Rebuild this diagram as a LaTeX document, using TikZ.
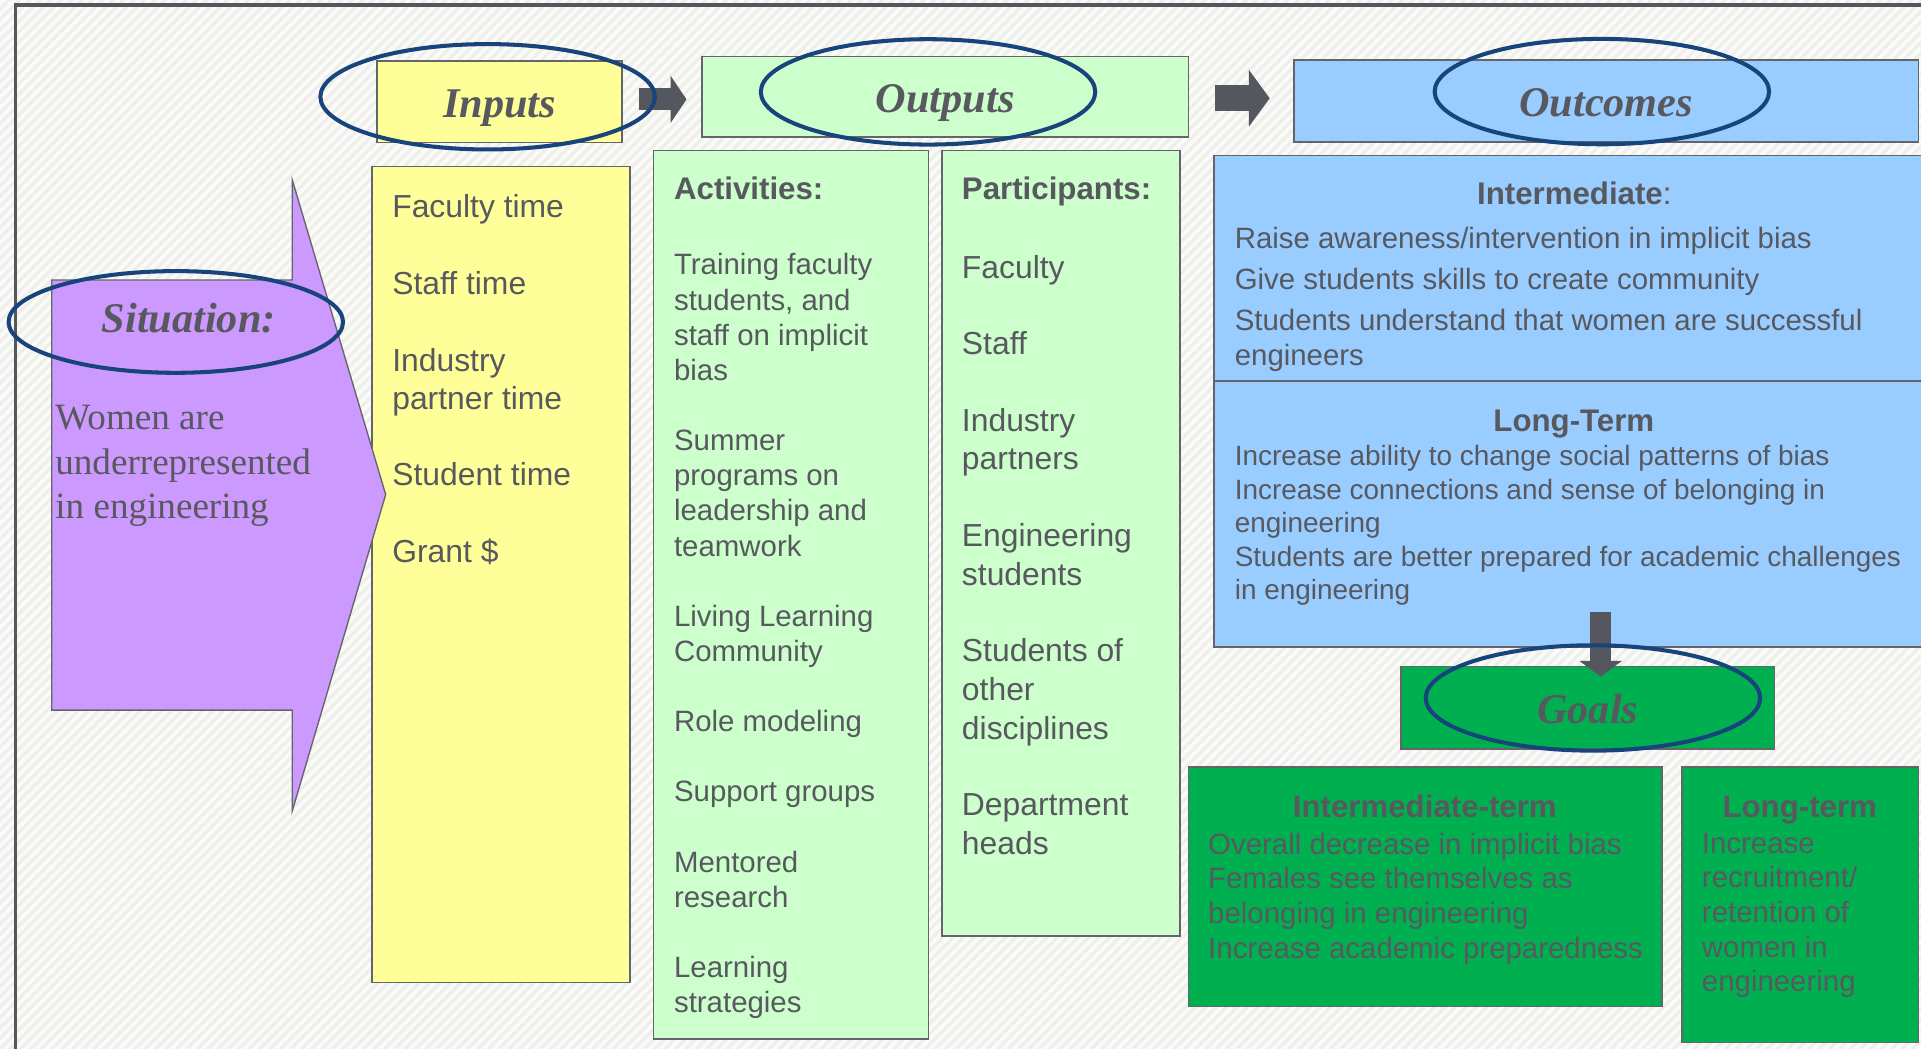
\documentclass[tikz,border=0pt]{standalone}
\usepackage{fontspec}
\setmainfont{Liberation Serif}
\setsansfont{Liberation Sans}
\usepackage{tikz}
\usetikzlibrary{shapes.geometric, arrows.meta, patterns.meta}
\definecolor{txtgray}{RGB}{88,89,95}
\definecolor{boxline}{RGB}{100,101,107}
\definecolor{arrowgray}{RGB}{85,87,95}
\definecolor{ovalblue}{RGB}{23,68,122}
\definecolor{inyellow}{RGB}{255,255,153}
\definecolor{outgreen}{RGB}{204,255,204}
\definecolor{outcblue}{RGB}{153,204,255}
\definecolor{sitpurple}{RGB}{204,153,255}
\definecolor{goalgreen}{RGB}{0,176,80}
\definecolor{bgpaper}{RGB}{250,250,248}
\definecolor{bgstripe}{RGB}{238,238,235}
\newcommand{\hdfont}{\rmfamily\bfseries\itshape\fontsize{34.5}{40}\selectfont}
\newcommand{\sitfont}{\rmfamily\fontsize{30.3}{36.3}\selectfont}
\newcommand{\inputfont}{\sffamily\fontsize{26}{31}\selectfont}
\newcommand{\actfont}{\sffamily\fontsize{24}{28.7}\selectfont}
\newcommand{\partfont}{\sffamily\fontsize{26}{31.7}\selectfont}
\newcommand{\outcfont}{\sffamily\fontsize{24}{28}\selectfont}
\newcommand{\ltfont}{\sffamily\fontsize{22.8}{27.3}\selectfont}
\newcommand{\goalfont}{\sffamily\fontsize{24}{28.3}\selectfont}
\tikzstyle{header} = [rectangle, draw=boxline, line width=1.3pt, text height=25.5pt, text depth=0pt, font=\hdfont, text=txtgray]
\tikzstyle{panel} = [rectangle, draw=boxline, line width=1.3pt, inner sep=0pt]
\tikzstyle{oval} = [ellipse, draw=ovalblue, line width=3.3pt, minimum width=273pt, minimum height=86pt, inner sep=0pt]
\tikzstyle{bigarrow} = [draw=arrowgray, line width=18pt]
\tikzstyle{listtext} = [anchor=north west, align=left, inner sep=0pt, text=txtgray]
\tikzstyle{headtext} = [inner sep=0pt, text=txtgray, font=\sffamily\bfseries\fontsize{25.5}{30}\selectfont]

\begin{document}
\begin{tikzpicture}[x=1pt,y=-1pt]
\useasboundingbox (0,0) rectangle (1568,856);
% background
\fill[bgpaper] (0,0) rectangle (1568,856);
\fill[pattern={Lines[angle=45,distance=6pt,line width=2.5pt]}, pattern color=bgstripe] (0,0) rectangle (1568,856);
\draw[line width=2.7pt, arrowgray] (12.8,860) -- (12.8,4) -- (1572,4);

% headers
\node[header, fill=inyellow, minimum width=199.7pt, minimum height=66.7pt] (inhead) at (407.8,83.1) {Inputs};
\node[header, fill=outgreen, minimum width=397pt, minimum height=66pt] (outhead) at (771.5,79) {Outputs};
\node[header, fill=outcblue, minimum width=510pt, minimum height=67pt] (outchead) at (1311,82.5) {Outcomes};

% panels
\node[panel, fill=inyellow, minimum width=210.8pt, minimum height=666pt] (inbox) at (409,469) {};
\node[panel, fill=outgreen, minimum width=224.5pt, minimum height=725pt] (actbox) at (645.75,485.5) {};
\node[panel, fill=outgreen, minimum width=194.3pt, minimum height=641pt] (partbox) at (865.85,443.5) {};
\node[panel, fill=outcblue, minimum width=579pt, minimum height=184pt] (intbox) at (1280.5,219) {};
\node[panel, fill=outcblue, minimum width=579pt, minimum height=217pt] (ltbox) at (1280.5,419.5) {};
\node[header, fill=goalgreen, minimum width=305pt, minimum height=67.5pt] (goalhead) at (1296,577.75) {Goals};
\node[panel, fill=goalgreen, minimum width=386.6pt, minimum height=195.7pt] (gintbox) at (1163.3,723.85) {};
\node[panel, fill=goalgreen, minimum width=193pt, minimum height=225pt] (gltbox) at (1469.5,738.5) {};

% situation arrow
\draw[fill=sitpurple, draw=boxline, line width=1.1pt] (42.3,228.6) -- (238.6,228.6) -- (238.6,147) -- (314.8,403.7) -- (238.6,661.8) -- (238.6,579.6) -- (42.3,579.6) -- cycle;

% block arrows
\draw[bigarrow, -{Triangle[length=13pt,width=38.6pt,line width=0pt]}] ([xshift=13pt,yshift=2pt]inhead.east) -- ([xshift=-12pt,yshift=2pt]inhead.east -| outhead.west);
\draw[bigarrow, line width=21.5pt, -{Triangle[length=17pt,width=46.5pt,line width=0pt]}] ([xshift=21pt,yshift=-1.2pt]outhead.east) -- ([xshift=-19pt,yshift=-1.2pt]outhead.east -| outchead.west);
\draw[bigarrow, line width=17pt, -{Triangle[length=13pt,width=35pt,line width=0pt]}] ([xshift=10.5pt,yshift=29pt]goalhead.north |- ltbox.south) -- ([xshift=10.5pt,yshift=-9pt]goalhead.north);

% texts
\node[listtext, font=\sitfont] (sitlist) at (45,330.6) {Women are\\underrepresented\\in engineering};
\node[inner sep=0pt, anchor=base, text=txtgray, font=\hdfont] (sithd) at (154,271) {Situation:};
\node[listtext, font=\inputfont] (inlist) at (320,158.6) {Faculty time\\[31.6pt]Staff time\\[31.6pt]Industry\\partner time\\[31.6pt]Student time\\[31.6pt]Grant \$};
\node[headtext, anchor=base west] (acthd) at (550,163) {Activities:};
\node[listtext, font=\actfont] (actlist) at (550,206.8) {Training faculty\\students, and\\staff on implicit\\bias\\[28.6pt]Summer\\programs on\\leadership and\\teamwork\\[28.6pt]Living Learning\\Community\\[28.6pt]Role modeling\\[28.6pt]Support groups\\[28.6pt]Mentored\\research\\[28.6pt]Learning\\strategies};
\node[headtext, anchor=base west] (parthd) at (785,163) {Participants:};
\node[listtext, font=\partfont] (partlist) at (785,208.2) {Faculty\\[30.6pt]Staff\\[30.6pt]Industry\\partners\\[30.6pt]Engineering\\students\\[30.6pt]Students of\\other\\disciplines\\[30.6pt]Department\\heads};
\node[headtext, anchor=base] (inthd) at (1285,167.3) {Intermediate\textmd{:}};
\node[listtext, font=\outcfont] (intlist) at (1007.7,185.5) {Raise awareness/intervention in implicit bias\\[5.5pt]Give students skills to create community\\[5.5pt]Students understand that women are successful\\engineers};
\node[headtext, anchor=base] (lthd) at (1284.6,351.8) {Long-Term};
\node[listtext, font=\ltfont] (ltlist) at (1007.7,363.6) {Increase ability to change social patterns of bias\\Increase connections and sense of belonging in\\engineering\\Students are better prepared for academic challenges\\in engineering};
\node[headtext, anchor=base] (ginthd) at (1163,667) {Intermediate-term};
\node[listtext, font=\goalfont] (gintlist) at (986,679.7) {Overall decrease in implicit bias\\Females see themselves as\\belonging in engineering\\Increase academic preparedness};
\node[headtext, anchor=base] (glthd) at (1469,667) {Long-term};
\node[listtext, font=\goalfont] (gltlist) at (1389,679.7) {Increase\\recruitment/\\retention of\\women in\\engineering};

% ovals
\node[oval] (inoval) at (398,79) {};
\node[oval] (outoval) at (757.5,75) {};
\node[oval] (outcoval) at (1307.5,74.75) {};
\node[oval] (goaloval) at (1300.2,569.7) {};
\node[oval, minimum height=83pt] (sitoval) at (143.5,262.8) {};
\end{tikzpicture}
\end{document}
